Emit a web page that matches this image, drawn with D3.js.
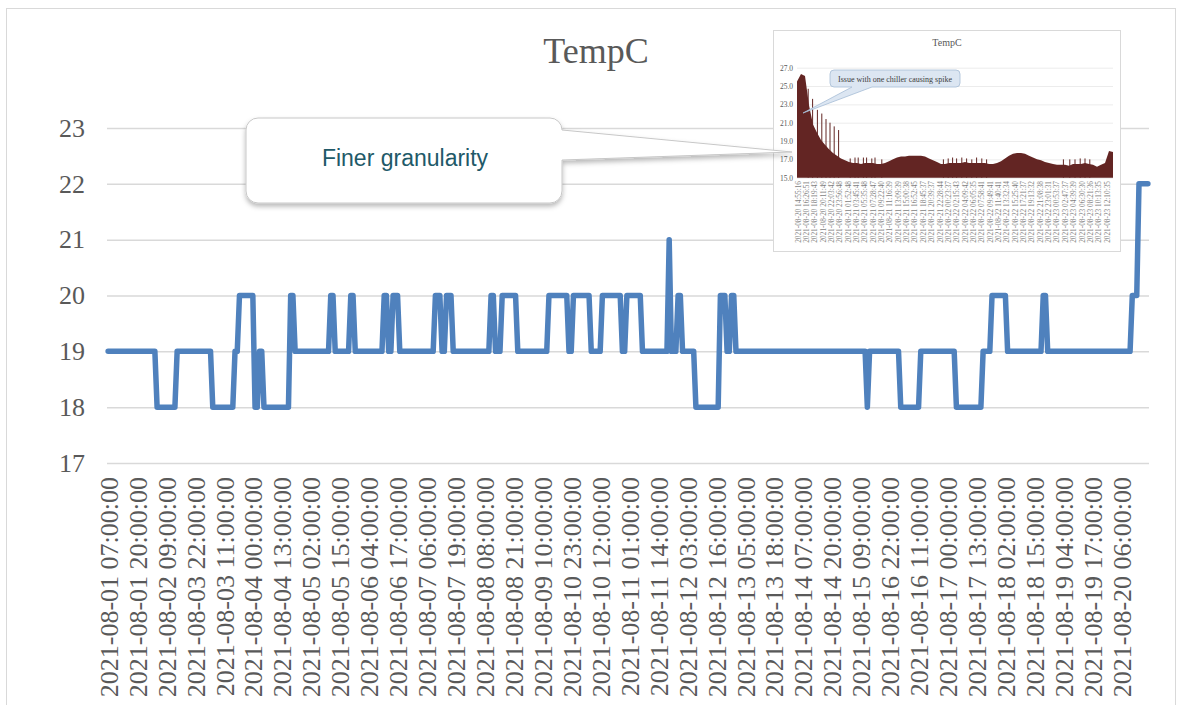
<!DOCTYPE html>
<html>
<head>
<meta charset="utf-8">
<script src="https://cdnjs.cloudflare.com/ajax/libs/d3/7.8.5/d3.min.js"></script>
<style>
  body { margin: 0; background: #fff; }
  svg { display: block; }
</style>
</head>
<body>
<div id="chart"></div>
<script>
// hourly readings, stored as runs of [tempC, hours]
const tempRuns = [
  [19,22],[18,9],[19,16],[18,10],[19,2],[20,7],[18,2],[19,2],[18,12],[20,2],
  [19,16],[20,2],[19,7],[20,2],[19,13],[20,2],[19,2],[20,3],[19,16],[20,3],
  [19,2],[20,3],[19,17],[20,2],[19,3],[20,7],[19,14],[20,9],[19,2],[20,8],
  [19,5],[20,9],[19,2],[20,7],[19,12],[21,1],[19,3],[20,2],[19,6],[18,11],
  [20,3],[19,2],[20,2],[19,59],[18,1],[19,14],[18,9],[19,16],[18,12],[19,4],
  [20,7],[19,16],[20,2],[19,38],[20,3],[22,5]
];

// every 13th category gets a label (as printed on the original)
const tickLabels = [
  "2021-08-01 07:00:00","2021-08-01 20:00:00","2021-08-02 09:00:00","2021-08-03 22:00:00",
  "2021-08-03 11:00:00","2021-08-04 00:00:00","2021-08-04 13:00:00","2021-08-05 02:00:00",
  "2021-08-05 15:00:00","2021-08-06 04:00:00","2021-08-06 17:00:00","2021-08-07 06:00:00",
  "2021-08-07 19:00:00","2021-08-08 08:00:00","2021-08-08 21:00:00","2021-08-09 10:00:00",
  "2021-08-10 23:00:00","2021-08-10 12:00:00","2021-08-11 01:00:00","2021-08-11 14:00:00",
  "2021-08-12 03:00:00","2021-08-12 16:00:00","2021-08-13 05:00:00","2021-08-13 18:00:00",
  "2021-08-14 07:00:00","2021-08-14 20:00:00","2021-08-15 09:00:00","2021-08-16 22:00:00",
  "2021-08-16 11:00:00","2021-08-17 00:00:00","2021-08-17 13:00:00","2021-08-18 02:00:00",
  "2021-08-18 15:00:00","2021-08-19 04:00:00","2021-08-19 17:00:00","2021-08-20 06:00:00"
];
const labelEvery = 13;
const yTicks = [17, 18, 19, 20, 21, 22, 23];

// inset screenshot: finer granularity series
const insetTemps = [
  25.5,26.3,26.1,22.9,20.8,19.9,19.1,18.6,18.1,17.7,
  17.4,17.1,16.9,16.7,16.6,16.6,16.5,16.6,16.6,16.6,
  16.5,16.5,16.6,16.8,17.0,17.2,17.3,17.3,17.4,17.4,
  17.4,17.4,17.3,17.1,16.9,16.7,16.5,16.5,16.6,16.6,
  16.6,16.6,16.7,16.6,16.6,16.6,16.6,16.6,16.5,16.5,
  16.6,16.8,17.1,17.4,17.6,17.7,17.7,17.6,17.4,17.2,
  17.0,16.9,16.7,16.6,16.5,16.4,16.4,16.4,16.3,16.5,
  16.5,16.5,16.6,16.5,16.4,16.2,16.4,16.6,17.9,17.8
];
const insetSpikes = [
  [2.8,24.7],[3.9,23.6],[5.1,22.4],[6.2,22.0],[7.25,21.4],[8.25,21.0],[9.3,20.6],[10.4,20.2],
  [13.3,17.1],[14.5,17.2],[15.3,17.2],[16.6,17.2],[17.4,17.2],[18.7,17.1],[19.5,17.2],[21.2,17.0],
  [36.6,17.0],[37.8,17.1],[38.9,17.2],[39.9,17.1],[41.2,17.2],[42.4,17.1],[43.7,17.0],[44.9,17.2],
  [46.2,17.1],[47.4,17.0],[66.6,17.0],[68.2,17.0],[69.5,17.0],[70.8,17.1],[72.0,17.1],[73.2,17.0]
];
const insetTicks = [15, 17, 19, 21, 23, 25, 27];
const insetLabels = [
  "2021-08-20 14:55:16","2021-08-20 16:26:51","2021-08-20 18:19:43","2021-08-20 20:11:49",
  "2021-08-20 22:03:42","2021-08-20 23:56:48","2021-08-21 01:52:48","2021-08-21 03:45:41",
  "2021-08-21 05:35:48","2021-08-21 07:28:47","2021-08-21 09:22:40","2021-08-21 11:16:39",
  "2021-08-21 13:09:39","2021-08-21 15:00:38","2021-08-21 16:52:45","2021-08-21 18:45:37",
  "2021-08-21 20:39:37","2021-08-21 22:28:44","2021-08-22 00:23:37","2021-08-22 02:15:43",
  "2021-08-22 04:09:42","2021-08-22 06:05:35","2021-08-22 07:58:41","2021-08-22 09:49:41",
  "2021-08-22 11:40:41","2021-08-22 13:32:34","2021-08-22 15:25:40","2021-08-22 17:21:37",
  "2021-08-22 19:13:32","2021-08-22 21:08:38","2021-08-22 23:01:31","2021-08-23 00:53:37",
  "2021-08-23 02:47:37","2021-08-23 04:39:39","2021-08-23 06:30:30","2021-08-23 08:21:36",
  "2021-08-23 10:13:35","2021-08-23 12:10:35"
];

let temps = [];
tempRuns.forEach(function(r) {
  for (let k = 0; k < r[1]; k++) temps.push(r[0]);
});

const serif = "'Liberation Serif', 'DejaVu Serif', serif";
const W = 1182, H = 705;

const svg = d3.select("#chart").append("svg")
  .attr("width", W)
  .attr("height", H);

const defs = svg.append("defs");
const shadow = defs.append("filter").attr("id", "shadow")
  .attr("x", "-10%").attr("y", "-20%").attr("width", "130%").attr("height", "150%");
shadow.append("feDropShadow")
  .attr("dx", 0).attr("dy", 3).attr("stdDeviation", 2.5)
  .attr("flood-color", "#000").attr("flood-opacity", 0.28);

// outer chart border
svg.append("rect")
  .attr("x", 6.5).attr("y", 8.5)
  .attr("width", 1169).attr("height", 720)
  .attr("fill", "none").attr("stroke", "#d9d9d9");

svg.append("text")
  .attr("x", 596).attr("y", 63)
  .attr("text-anchor", "middle")
  .attr("font-family", serif).attr("font-size", 36)
  .attr("fill", "#595959")
  .text("TempC");

// scales
const x = d3.scalePoint()
  .domain(d3.range(temps.length))
  .range([107, 1149])
  .padding(0.5);
const y = d3.scaleLinear().domain([17, 23]).range([463, 128]);

// y axis + gridlines
const yAxis = svg.append("g")
  .attr("transform", "translate(107,0)")
  .call(d3.axisLeft(y).tickValues(yTicks).tickSize(-1042).tickPadding(22).tickFormat(d3.format("d")));
yAxis.select(".domain").remove();
yAxis.selectAll("line").attr("stroke", "#d9d9d9").attr("stroke-width", 1.5);
yAxis.selectAll("text")
  .attr("font-family", serif).attr("font-size", 26).attr("fill", "#595959");

// x axis labels
const xAxis = svg.append("g")
  .attr("transform", "translate(0,463)")
  .call(d3.axisBottom(x)
    .tickValues(d3.range(0, temps.length, labelEvery))
    .tickSize(0)
    .tickFormat(function(i) { return tickLabels[i / labelEvery]; }));
xAxis.select(".domain").remove();
xAxis.selectAll("text")
  .attr("transform", "rotate(-90)")
  .attr("text-anchor", "end")
  .attr("x", -14).attr("y", 0).attr("dy", "0.35em")
  .attr("font-family", serif).attr("font-size", 26).attr("fill", "#595959");

// the line
const line = d3.line()
  .x(function(d, i) { return x(i); })
  .y(function(d) { return y(d); });
svg.append("path")
  .datum(temps)
  .attr("d", line)
  .attr("fill", "none")
  .attr("stroke", "#4f81bd")
  .attr("stroke-width", 5.5)
  .attr("stroke-linejoin", "round")
  .attr("stroke-linecap", "round");

// ---------- inset picture ----------
const inset = svg.append("g");
inset.append("rect")
  .attr("x", 773.5).attr("y", 30.5).attr("width", 347).attr("height", 221)
  .attr("fill", "#fff").attr("stroke", "#d9d9d9");

inset.append("text")
  .attr("x", 947).attr("y", 46)
  .attr("text-anchor", "middle")
  .attr("font-family", serif).attr("font-size", 10)
  .attr("fill", "#595959")
  .text("TempC");

const ix = d3.scaleLinear().domain([0, insetTemps.length - 1]).range([797, 1113]);
const iy = d3.scaleLinear().domain([15, 27]).range([177.7, 67.7]);

const iyAxis = inset.append("g")
  .attr("transform", "translate(797,0)")
  .call(d3.axisLeft(iy).tickValues(insetTicks).tickSize(-316).tickPadding(4).tickFormat(d3.format(".1f")));
iyAxis.select(".domain").remove();
iyAxis.selectAll("line").attr("stroke", "#ececec");
iyAxis.selectAll("text")
  .attr("font-family", serif).attr("font-size", 7.5).attr("fill", "#595959");

inset.selectAll(".spike")
  .data(insetSpikes)
  .enter().append("line")
  .attr("class", "spike")
  .attr("x1", function(d) { return ix(d[0]); })
  .attr("x2", function(d) { return ix(d[0]); })
  .attr("y1", iy(15))
  .attr("y2", function(d) { return iy(d[1]); })
  .attr("stroke", "#632523")
  .attr("stroke-width", 1);

const area = d3.area()
  .x(function(d, i) { return ix(i); })
  .y0(iy(15))
  .y1(function(d) { return iy(d); });
inset.append("path")
  .datum(insetTemps)
  .attr("d", area)
  .attr("fill", "#632523");

const ixLab = d3.scalePoint().domain(d3.range(insetLabels.length)).range([798, 1107]);
inset.selectAll(".ilab")
  .data(insetLabels)
  .enter().append("text")
  .attr("class", "ilab")
  .attr("transform", function(d, i) { return "translate(" + ixLab(i) + ",181) rotate(-90)"; })
  .attr("text-anchor", "end")
  .attr("dy", "0.35em")
  .attr("font-family", serif).attr("font-size", 7.3)
  .attr("fill", "#7f7f7f")
  .text(function(d) { return d; });

// inset annotation
inset.append("path")
  .attr("d", "M834,70 H956 Q960,70 960,74 V83 Q960,87 956,87 H872 L803,113 L852,87 H834 Q830,87 830,83 V74 Q830,70 834,70 Z")
  .attr("fill", "#dce6f2")
  .attr("stroke", "#a6bcd6")
  .attr("stroke-width", 0.8);
inset.append("text")
  .attr("x", 895).attr("y", 81.5)
  .attr("text-anchor", "middle")
  .attr("font-family", serif).attr("font-size", 8)
  .attr("fill", "#404040")
  .text("Issue with one chiller causing spike");

// ---------- callout ----------
svg.append("path")
  .attr("d", "M258,118 H550 A12,12 0 0 1 562,130 L792,152 L562,160 V191 A12,12 0 0 1 550,203 H258 A12,12 0 0 1 246,191 V130 A12,12 0 0 1 258,118 Z")
  .attr("fill", "#fff")
  .attr("stroke", "#c8c8c8")
  .attr("stroke-width", 1)
  .attr("filter", "url(#shadow)");
svg.append("text")
  .attr("x", 405).attr("y", 166)
  .attr("text-anchor", "middle")
  .attr("font-family", "'Liberation Sans', Arial, sans-serif")
  .attr("font-size", 23)
  .attr("fill", "#215968")
  .text("Finer granularity");
</script>
</body>
</html>
